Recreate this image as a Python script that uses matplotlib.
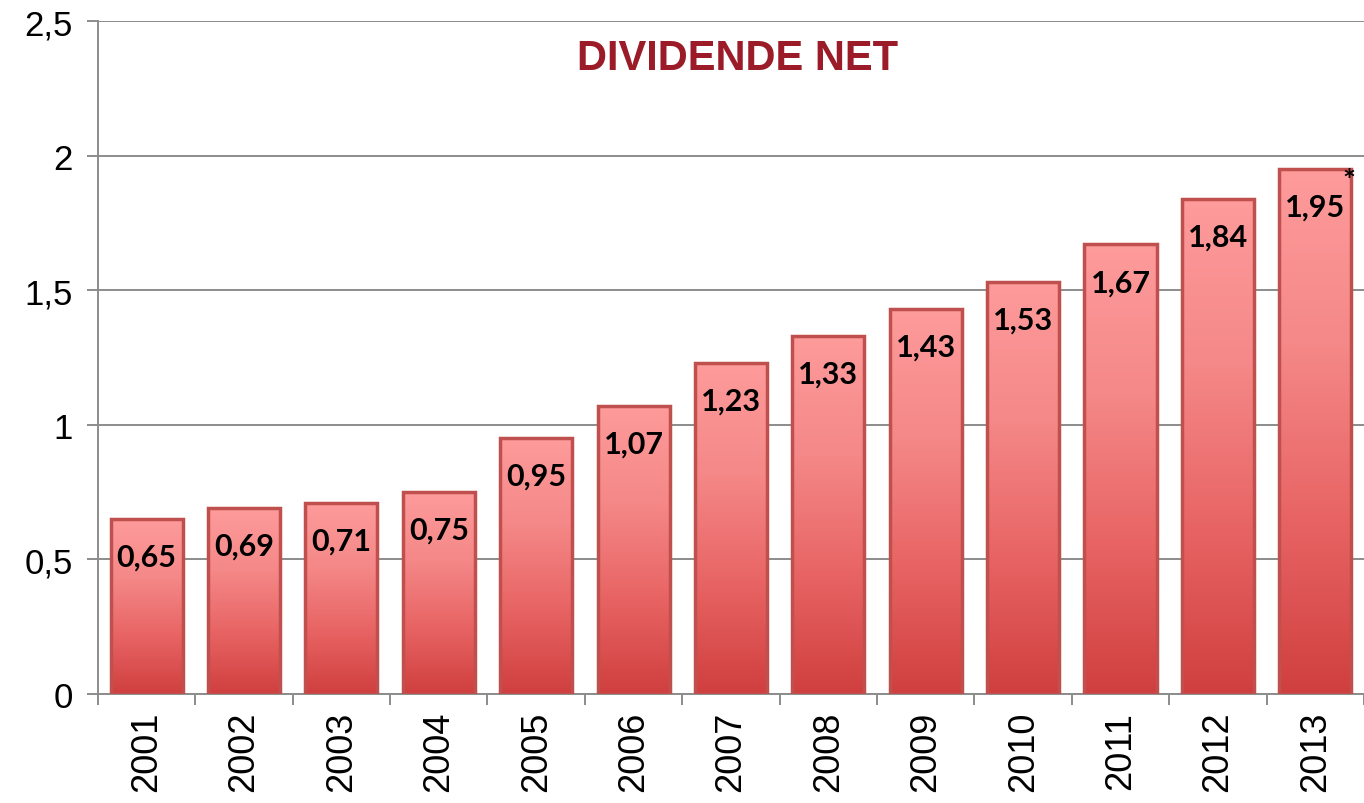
import numpy as np
import matplotlib
matplotlib.use("Agg")
import matplotlib.pyplot as plt
from matplotlib.colors import LinearSegmentedColormap
from matplotlib.patches import Rectangle

years = ["2001", "2002", "2003", "2004", "2005", "2006", "2007",
         "2008", "2009", "2010", "2011", "2012", "2013"]
dividende = [0.65, 0.69, 0.71, 0.75, 0.95, 1.07, 1.23,
             1.33, 1.43, 1.53, 1.67, 1.84, 1.95]
labels = ["0,65", "0,69", "0,71", "0,75", "0,95", "1,07", "1,23",
          "1,33", "1,43", "1,53", "1,67", "1,84", "1,95"]
yticks = [0, 0.5, 1, 1.5, 2, 2.5]
ytick_labels = ["0", "0,5", "1", "1,5", "2", "2,5"]

grid_col = "#8c8c8c"
edge_col = "#c0504d"
grad = LinearSegmentedColormap.from_list(
    "bar", ["#d03f3f", "#e86464", "#f58888", "#fe9b9b"])

fig = plt.figure(figsize=(13.64, 8.04), dpi=100)
ax = fig.add_axes([0.0718, 0.1356, 0.9282, 0.837])

x = np.arange(len(years))
w = 0.74

ax.set_yticks(yticks)
ax.set_yticklabels(ytick_labels, fontsize=25, family="Liberation Sans")
ax.yaxis.grid(True, color=grid_col, lw=1.4)
ax.set_axisbelow(True)

ax.set_xticks(x)
ax.set_xticklabels(years, rotation=90, fontsize=26, family="Liberation Sans")
ax.set_xticks(np.arange(len(years) + 1) - 0.5, minor=True)
ax.tick_params(axis="x", which="major", length=0, pad=12)
ax.tick_params(axis="x", which="minor", length=8, width=1.4, color=grid_col)
ax.tick_params(axis="y", length=8, width=1.4, color=grid_col, pad=10)

for s in ["top", "right"]:
    ax.spines[s].set_visible(False)
for s in ["left", "bottom"]:
    ax.spines[s].set_color(grid_col)
    ax.spines[s].set_linewidth(1.4)

g = np.linspace(0, 1, 256).reshape(-1, 1)
for xi, v, lab in zip(x, dividende, labels):
    im = ax.imshow(g, cmap=grad, origin="lower", aspect="auto",
                   extent=[xi - w / 2, xi + w / 2, 0, v], zorder=2)
    rect = Rectangle((xi - w / 2, 0), w, v, facecolor="none",
                     edgecolor=edge_col, lw=2.5, zorder=3)
    ax.add_patch(rect)
    im.set_clip_path(rect)
    ax.text(xi, v - 0.14, lab, ha="center", va="center", fontsize=22,
            fontweight="bold", family="Lato", color="black", zorder=4)

# asterisk on the last value
ax.text(x[-1] + 0.34, dividende[-1] - 0.045, "*", ha="center", va="center",
        fontsize=22, fontweight="bold", family="Lato", zorder=4)

ax.set_xlim(-0.5, len(years) - 0.5)
ax.set_ylim(0, 2.5)

ax.text(0.505, 0.945, "DIVIDENDE NET", transform=ax.transAxes, ha="center",
        va="center", fontsize=30, fontweight="bold", family="Liberation Sans",
        color="#9b1b28")

fig.savefig("out.png", dpi=100)
